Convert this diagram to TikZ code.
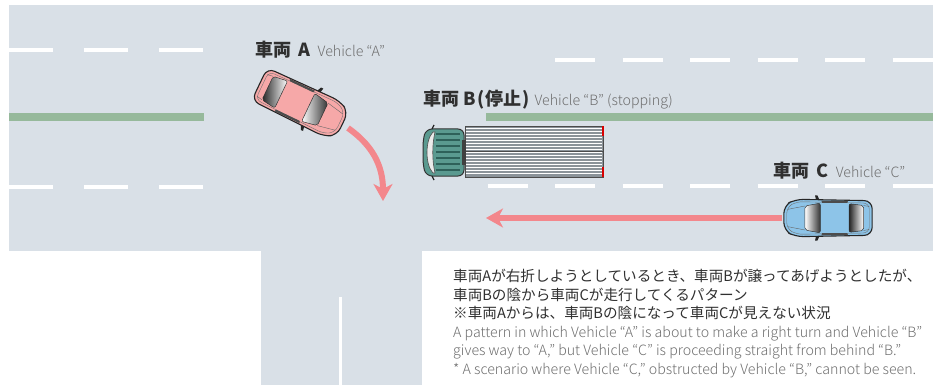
\documentclass[tikz,border=0pt]{standalone}
\usepackage{fontspec}
\setmainfont{Noto Sans CJK JP}
\IfFontExistsTF{Noto Sans CJK JP Light}
  {\newfontfamily\lightfont{Noto Sans CJK JP Light}}
  {\newfontfamily\lightfont{Noto Sans CJK JP}}
\usetikzlibrary{arrows.meta}

\definecolor{roadgray}{HTML}{D9E0E7}
\definecolor{linegreen}{HTML}{96B99B}
\definecolor{arrowpink}{HTML}{F3878C}
\definecolor{carpink}{HTML}{F6A8A8}
\definecolor{carblue}{HTML}{8DC4E8}
\definecolor{cabteal}{HTML}{5A9A90}
\definecolor{cabdark}{HTML}{2E615A}
\definecolor{boxgray}{HTML}{8B9399}
\definecolor{inkdark}{HTML}{303030}
\definecolor{inkgray}{HTML}{6E6E6E}

\tikzset{
  dashline/.style={white, line width=3.5pt},
  turn/.style={arrowpink, line width=6pt, -{Stealth[length=17pt,width=19pt,inset=5pt]}},
  lab/.style={inner sep=0pt, text=inkdark, font=\fontsize{18}{20}\selectfont\bfseries},
  sublab/.style={inner sep=0pt, text=inkgray, font=\lightfont\fontsize{14.2}{16}\selectfont},
  jptext/.style={inner sep=0pt, anchor=base west, text=inkdark, font=\fontsize{14.6}{17}\selectfont},
  entext/.style={inner sep=0pt, anchor=base west, text=inkgray, font=\lightfont\fontsize{14.2}{16}\selectfont},
  % a small car seen from above, nose towards +x
  pics/car/.style={code={
    \draw[fill=#1, draw=black!85, line width=1.1pt, rounded corners=8pt]
      (-46,-18) -- (34,-19.5) -- (46,-13) -- (46,13) -- (34,19.5) -- (-46,18) -- cycle;
    \draw[black!55, line width=0.4pt, rounded corners=6pt]
      (-43,-15.5) -- (33,-17) -- (43,-11) -- (43,11) -- (33,17) -- (-43,15.5) -- cycle;
    % rear window and windscreen
    \shade[left color=black!85, right color=white, draw=black!80, line width=0.5pt, rounded corners=2pt]
      (-37,-13) -- (-22,-15) -- (-22,15) -- (-37,13) -- cycle;
    \shade[left color=white, right color=black!80, draw=black!80, line width=0.5pt, rounded corners=2pt]
      (8,-15.5) -- (24,-12.5) -- (24,12.5) -- (8,15.5) -- cycle;
    % side glass
    \fill[black!70] (-21,-18) -- (7,-18) -- (6,-15.8) -- (-20,-15.8) -- cycle;
    \fill[black!70] (-21,18) -- (7,18) -- (6,15.8) -- (-20,15.8) -- cycle;
    % bonnet lines
    \draw[black!60, line width=0.4pt] (24,-12.5) -- (42,-9) (24,12.5) -- (42,9);
    \draw[black!60, line width=0.4pt] (-37,-13) -- (-43,-12) (-37,13) -- (-43,12);
    % mirrors
    \fill[black!85] (9,-19) -- (11,-23.5) -- (13.5,-23.5) -- (12.5,-19) -- cycle;
    \fill[black!85] (9,19) -- (11,23.5) -- (13.5,23.5) -- (12.5,19) -- cycle;
  }}
}

\begin{document}
\begin{tikzpicture}[x=1pt,y=-1pt]
\useasboundingbox (0,0) rectangle (937,385);

% road surface
\fill[roadgray] (9,5) rectangle (933,251);
\fill[roadgray] (261,251) rectangle (422,385);

% lane markings
\foreach \x in {9,84,159}{
  \draw[dashline] (\x,50) -- (\x+44,50);
  \draw[dashline] (\x,187) -- (\x+44,187);
}
\foreach \x in {555,622.5,...,893}{
  \draw[dashline] (\x,60) -- (\x+40,60);
}
\foreach \x in {487.5,555,...,893}{
  \draw[dashline] (\x,186) -- (\x+40,186);
}
\draw[dashline, line width=3pt] (340,297) -- (340,385);

% centre line
\fill[linegreen] (9,113) rectangle (204,121);
\fill[linegreen] (486,113) rectangle (933,121);

% vehicle B: truck
\coordinate (truckB) at (512,151);
\fill[boxgray] (465,126) rectangle (603,177);
\foreach \y in {128.5,131.5,...,176}{
  \draw[white, line width=0.6pt] (466,\y) -- (602,\y);
}
\draw[black!70, line width=0.8pt] (465,126) rectangle (603,177);
\draw[black!70, line width=1pt] (465,151.5) -- (603,151.5);
\draw[red!85!black, line width=1.6pt] (603,126) -- (603,136) (603,167) -- (603,177);
\draw[fill=cabteal, draw=black!80, line width=1pt, rounded corners=6pt]
  (464,129) -- (426,129) -- (423,140) -- (423,165) -- (426,176) -- (464,176) -- cycle;
\foreach \y in {134,140,...,172}{
  \draw[cabdark, line width=2.2pt] (436,\y) -- (460,\y);
}
\draw[fill=black!8, draw=black!70, line width=0.6pt] (433,132) .. controls (425,140) and (425,165) .. (433,173) -- (435,173) .. controls (432,160) and (432,145) .. (435,132) -- cycle;
\draw[black!85, line width=1.2pt] (432,129) -- (434,125) (432,176) -- (434,180);
\fill[black!75] (462,140) rectangle (466,165);

% vehicle A turning right
\coordinate (carA) at (301,104);
\pic[shift={(carA)}, rotate=-25.5, transform shape] {car=carpink};
\coordinate (turnA) at (348,128);
\coordinate (endA) at (383,201);
\draw[turn] (turnA) .. controls (372,145) and (383,165) .. (endA);

% vehicle C going straight
\coordinate (carC) at (828,218);
\pic[shift={(carC)}, rotate=180, scale=0.96, transform shape] {car=carblue};
\coordinate (startC) at (782,218);
\coordinate (endC) at (486,218);
\draw[turn] (startC) -- (endC);

% labels
\node[lab, anchor=base west] (labA) at (255,57) {車両\hspace{0.4em}A};
\node[sublab, anchor=base west] (subA) at ([xshift=7pt]labA.base east) {Vehicle “A”};
\node[lab, anchor=base west] (labB) at (423,106) {車両 B\hspace{0.12em}(停止\hspace{0.1em})};
\node[sublab, anchor=base west] (subB) at ([xshift=4pt]labB.base east) {Vehicle “B” (stopping)};
\node[lab, anchor=base west] (labC) at (773,178) {車両\hspace{0.4em}C};
\node[sublab, anchor=base west] (subC) at ([xshift=7pt]labC.base east) {Vehicle “C”};

% explanation
\node[jptext] (jp1) at (453,281) {車両Aが右折しようとしているとき、車両Bが譲ってあげようとしたが、};
\node[jptext] (jp2) at (453,300) {車両Bの陰から車両Cが走行してくるパターン};
\node[jptext] (jp3) at (453,318) {※車両Aからは、車両Bの陰になって車両Cが見えない状況};
\node[entext] (en1) at (453,337) {A pattern in which Vehicle “A” is about to make a right turn and Vehicle “B”};
\node[entext] (en2) at (453,355) {gives way to “A,” but Vehicle “C” is proceeding straight from behind “B.”};
\node[entext] (en3) at (453,374) {* A scenario where Vehicle “C,” obstructed by Vehicle “B,” cannot be seen.};

\end{tikzpicture}
\end{document}
